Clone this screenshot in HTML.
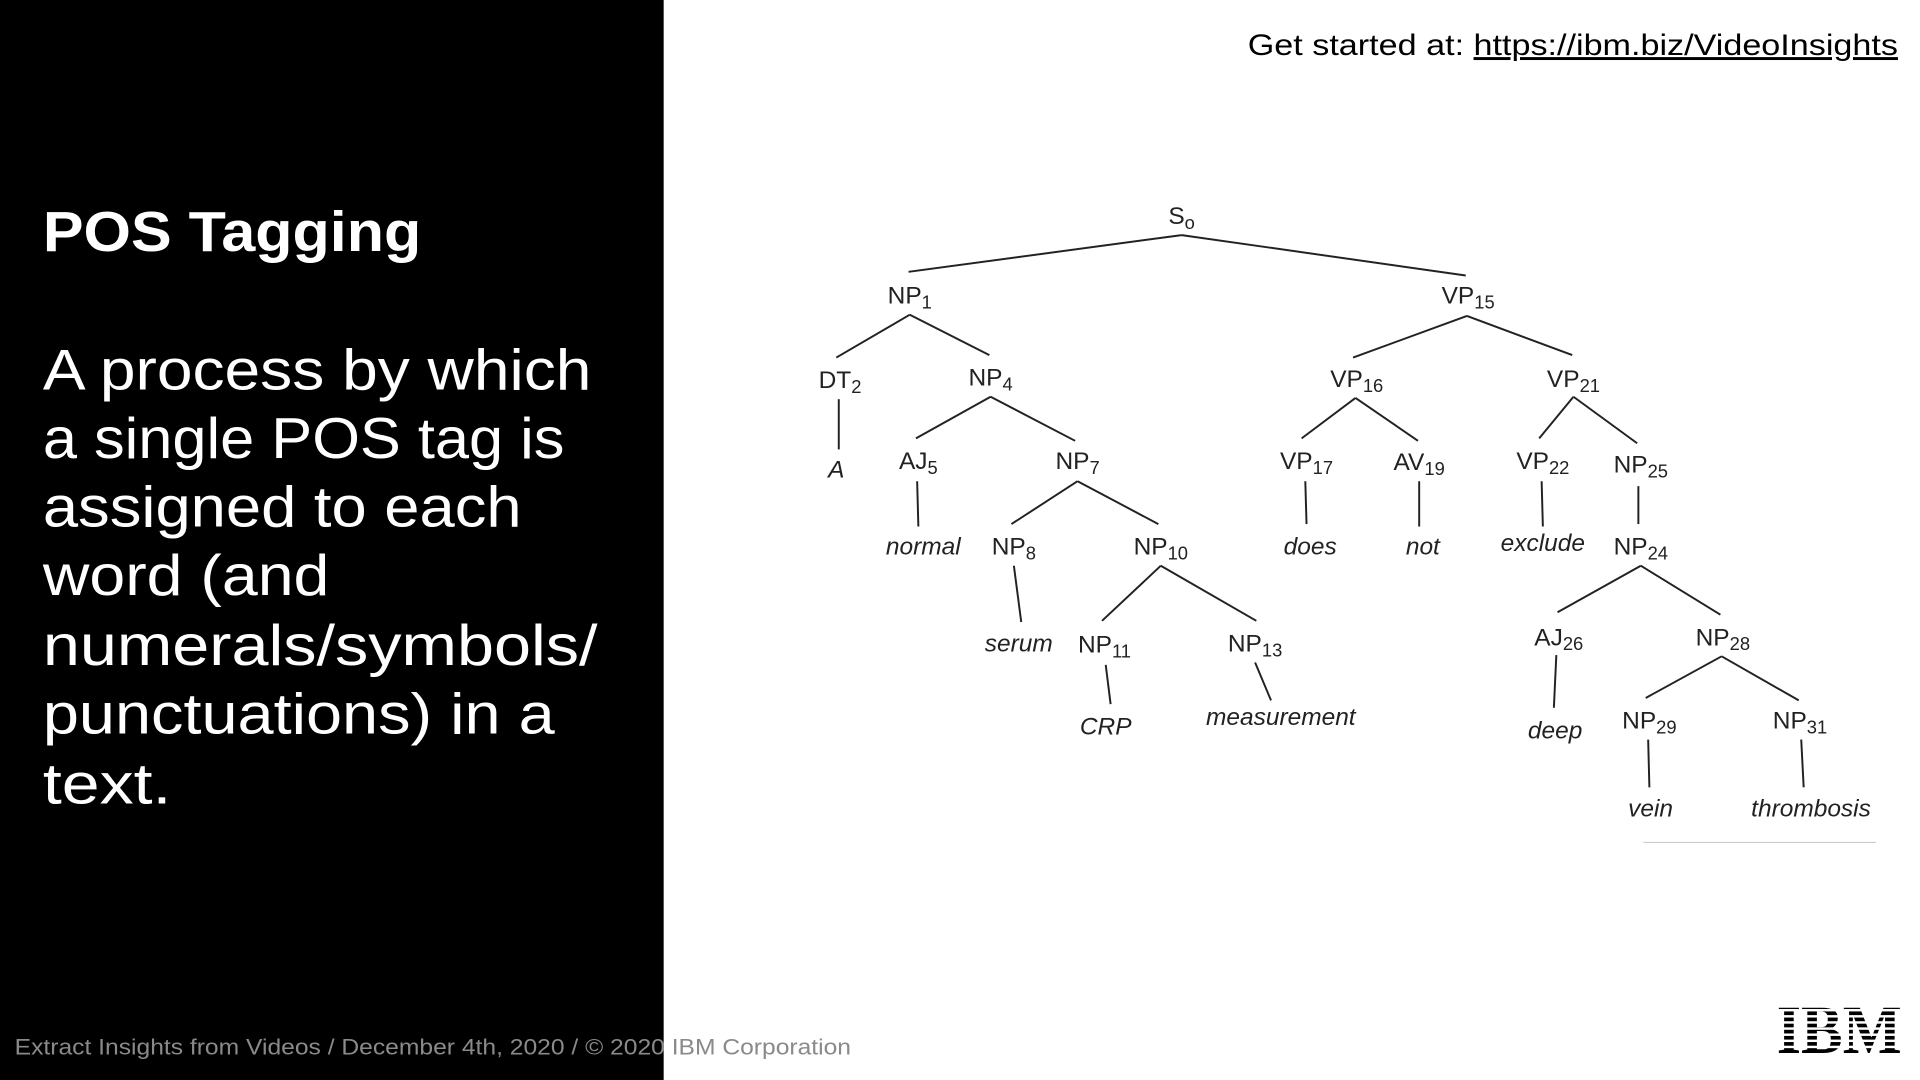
<!DOCTYPE html>
<html><head><meta charset="utf-8"><style>
html,body{margin:0;padding:0;background:#fff;}
svg{display:block;}
</style></head><body>
<svg width="1920" height="1080" viewBox="0 0 1568 882" xmlns="http://www.w3.org/2000/svg">
<rect x="0" y="0" width="1568" height="882" fill="#fff"/>
<rect x="0" y="0" width="542" height="882" fill="#000"/>
<g font-family="Liberation Sans, sans-serif" fill="#fff" lengthAdjust="spacingAndGlyphs">
<text x="35" y="205" font-size="46" font-weight="bold" textLength="309" lengthAdjust="spacingAndGlyphs">POS Tagging</text>
<g font-size="47">
<text x="35" y="318" textLength="448" lengthAdjust="spacingAndGlyphs">A process by which</text>
<text x="35" y="374" textLength="426" lengthAdjust="spacingAndGlyphs">a single POS tag is</text>
<text x="35" y="430" textLength="391" lengthAdjust="spacingAndGlyphs">assigned to each</text>
<text x="35" y="486" textLength="234" lengthAdjust="spacingAndGlyphs">word (and</text>
<text x="35" y="543" textLength="453" lengthAdjust="spacingAndGlyphs">numerals/symbols/</text>
<text x="35" y="599" textLength="418" lengthAdjust="spacingAndGlyphs">punctuations) in a</text>
<text x="35" y="656" textLength="105" lengthAdjust="spacingAndGlyphs">text.</text>
</g>
</g>
<text x="12" y="861" font-family="Liberation Sans, sans-serif" font-size="18" fill="#8a8a8a" textLength="683" lengthAdjust="spacingAndGlyphs">Extract Insights from Videos / December 4th, 2020 / © 2020 IBM Corporation</text>
<text x="1019" y="45" font-family="Liberation Sans, sans-serif" font-size="24" fill="#000" textLength="531" lengthAdjust="spacingAndGlyphs">Get started at: <tspan text-decoration="underline">https://ibm.biz/VideoInsights</tspan></text>

<g stroke="#222" stroke-width="1.6" fill="none">
<line x1="965" y1="192" x2="742" y2="222"/><line x1="965" y1="192" x2="1197" y2="225"/>
<line x1="743" y1="257" x2="683" y2="292"/><line x1="743" y1="257" x2="808" y2="290"/>
<line x1="685" y1="326" x2="685" y2="367"/>
<line x1="809" y1="324" x2="748" y2="358"/><line x1="809" y1="324" x2="878" y2="360"/>
<line x1="749" y1="393" x2="750" y2="430"/>
<line x1="880" y1="393" x2="826" y2="428"/><line x1="880" y1="393" x2="946" y2="428"/>
<line x1="828" y1="462" x2="834" y2="508"/>
<line x1="948" y1="462" x2="900" y2="507"/><line x1="948" y1="462" x2="1026" y2="507"/>
<line x1="903" y1="543" x2="907" y2="575"/>
<line x1="1025" y1="541" x2="1038" y2="572"/>
<line x1="1198" y1="258" x2="1105" y2="292"/><line x1="1198" y1="258" x2="1284" y2="290"/>
<line x1="1107" y1="325" x2="1063" y2="358"/><line x1="1107" y1="325" x2="1158" y2="360"/>
<line x1="1066" y1="393" x2="1067" y2="428"/>
<line x1="1159" y1="393" x2="1159" y2="430"/>
<line x1="1285" y1="324" x2="1257" y2="358"/><line x1="1285" y1="324" x2="1337" y2="362"/>
<line x1="1259" y1="393" x2="1260" y2="430"/>
<line x1="1338" y1="397" x2="1338" y2="428"/>
<line x1="1340" y1="462" x2="1272" y2="500"/><line x1="1340" y1="462" x2="1405" y2="502"/>
<line x1="1271" y1="535" x2="1269" y2="578"/>
<line x1="1406" y1="536" x2="1344" y2="570"/><line x1="1406" y1="536" x2="1469" y2="572"/>
<line x1="1346" y1="604" x2="1347" y2="643"/>
<line x1="1471" y1="604" x2="1473" y2="643"/>
</g>
<line x1="1342" y1="688" x2="1532" y2="688" stroke="#ccc" stroke-width="1"/>

<g font-family="Liberation Sans, sans-serif" font-size="20" fill="#222" text-anchor="middle">
<text x="965" y="183">S<tspan font-size="15" dy="4">o</tspan></text>
<text x="743" y="248">NP<tspan font-size="15" dy="4">1</tspan></text>
<text x="686" y="317">DT<tspan font-size="15" dy="4">2</tspan></text>
<text x="809" y="315">NP<tspan font-size="15" dy="4">4</tspan></text>
<text x="750" y="383">AJ<tspan font-size="15" dy="4">5</tspan></text>
<text x="880" y="383">NP<tspan font-size="15" dy="4">7</tspan></text>
<text x="828" y="453">NP<tspan font-size="15" dy="4">8</tspan></text>
<text x="948" y="453">NP<tspan font-size="15" dy="4">10</tspan></text>
<text x="902" y="533">NP<tspan font-size="15" dy="4">11</tspan></text>
<text x="1025" y="532">NP<tspan font-size="15" dy="4">13</tspan></text>
<text x="1199" y="248">VP<tspan font-size="15" dy="4">15</tspan></text>
<text x="1108" y="316">VP<tspan font-size="15" dy="4">16</tspan></text>
<text x="1067" y="383">VP<tspan font-size="15" dy="4">17</tspan></text>
<text x="1159" y="384">AV<tspan font-size="15" dy="4">19</tspan></text>
<text x="1285" y="316">VP<tspan font-size="15" dy="4">21</tspan></text>
<text x="1260" y="383">VP<tspan font-size="15" dy="4">22</tspan></text>
<text x="1340" y="386">NP<tspan font-size="15" dy="4">25</tspan></text>
<text x="1340" y="453">NP<tspan font-size="15" dy="4">24</tspan></text>
<text x="1273" y="527">AJ<tspan font-size="15" dy="4">26</tspan></text>
<text x="1407" y="527">NP<tspan font-size="15" dy="4">28</tspan></text>
<text x="1347" y="595">NP<tspan font-size="15" dy="4">29</tspan></text>
<text x="1470" y="595">NP<tspan font-size="15" dy="4">31</tspan></text>
</g>
<g font-family="Liberation Sans, sans-serif" font-size="20" font-style="italic" fill="#222" text-anchor="middle">
<text x="683" y="390">A</text>
<text x="754" y="453">normal</text>
<text x="832" y="532">serum</text>
<text x="903" y="600">CRP</text>
<text x="1046" y="592">measurement</text>
<text x="1070" y="453">does</text>
<text x="1162" y="453">not</text>
<text x="1260" y="450">exclude</text>
<text x="1270" y="603">deep</text>
<text x="1348" y="667">vein</text>
<text x="1479" y="667">thrombosis</text>
</g>

<g>
<text x="1502" y="860" text-anchor="middle" font-family="Liberation Serif, serif" font-weight="bold" font-size="56" fill="#000" textLength="102" lengthAdjust="spacingAndGlyphs">IBM</text>
<g fill="#fff">
<rect x="1448" y="824" width="110" height="2"/>
<rect x="1448" y="829" width="110" height="2"/>
<rect x="1448" y="834" width="110" height="2"/>
<rect x="1448" y="839" width="110" height="2"/>
<rect x="1448" y="844" width="110" height="2"/>
<rect x="1448" y="849" width="110" height="2"/>
<rect x="1448" y="854" width="110" height="2"/>
</g>
</g>
</svg>
</body></html>
